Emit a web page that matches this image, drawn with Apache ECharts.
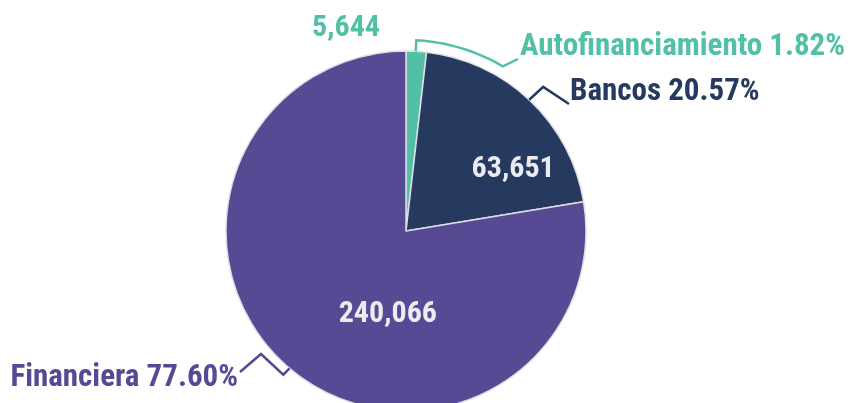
<!DOCTYPE html>
<html><head><meta charset="utf-8">
<script src="https://cdn.jsdelivr.net/npm/echarts@6/dist/echarts.min.js"></script>
<style>html,body{margin:0;padding:0;background:#fff}#c{width:853px;height:403px}</style>
</head><body><div id="c"></div>
<script>
var categories = ['Autofinanciamiento', 'Bancos', 'Financiera'];
var values = [5644, 63651, 240066];
var colors = ['#52c0a6', '#253a5e', '#554a93'];

var FONT = '"Roboto Condensed", "Roboto", sans-serif';
var total = values.reduce(function (a, b) { return a + b; }, 0);
var data = categories.map(function (c, i) {
  return { name: c, value: values[i], itemStyle: { color: colors[i] } };
});

// ---- layout only (positions of labels / label lines) ----
var CX = 406, CY = 231, R = 180;
function polar(r, deg) {
  var a = deg * Math.PI / 180;
  return [CX + r * Math.sin(a), CY - r * Math.cos(a)];
}
function arc(r, a0, a1, n) {
  var pts = [];
  for (var k = 0; k <= n; k++) pts.push(polar(r, a0 + (a1 - a0) * k / n));
  return pts;
}
var innerShift = [null, [43, 6], [42, 13]];
var outerLabel = [
  { x: 520, y: 47, align: 'left' },
  { x: 570, y: 92, align: 'left' },
  { x: 238, y: 378, align: 'right' }
];
var linePts = [
  [polar(R, 3.1)].concat(arc(191, 3.1, 30.5, 24)).concat([[518, 59]]),
  [polar(R, 43.2), polar(199, 43.6), [569, 104]],
  [polar(R, 220.3), polar(189, 220.5), [261, 354], [240, 372]]
];

var chart = echarts.init(document.getElementById('c'));
chart.setOption({
  animation: false,
  series: [
    {
      type: 'pie',
      center: [CX, CY],
      radius: R,
      startAngle: 90,
      clockwise: true,
      itemStyle: { borderColor: '#dedee6', borderWidth: 1.5 },
      label: {
        position: 'inside',
        formatter: function (p) { return echarts.format.addCommas(p.value); },
        color: '#ececf0',
        fontFamily: FONT,
        fontWeight: 'bold',
        fontSize: 30
      },
      labelLine: { show: false },
      labelLayout: function (p) {
        var i = p.dataIndex;
        if (i === 0) {
          return { x: 346, y: 28, align: 'center', verticalAlign: 'middle' };
        }
        return { dx: innerShift[i][0], dy: innerShift[i][1] };
      },
      data: data.map(function (d, i) {
        var o = Object.assign({}, d);
        if (i === 0) o.label = { color: colors[0] };
        return o;
      })
    },
    {
      type: 'pie',
      center: [CX, CY],
      radius: R,
      startAngle: 90,
      clockwise: true,
      silent: true,
      z: 3,
      itemStyle: { color: 'transparent', borderWidth: 0 },
      label: {
        position: 'outside',
        formatter: function (p) {
          return p.name + ' ' + (p.value / total * 100).toFixed(2) + '%';
        },
        fontFamily: FONT,
        fontWeight: 'bold',
        fontSize: 31
      },
      labelLine: { show: true, length: 12, length2: 20, lineStyle: { width: 2.5 } },
      labelLayout: function (p) {
        var i = p.dataIndex;
        return {
          x: outerLabel[i].x, y: outerLabel[i].y,
          align: outerLabel[i].align, verticalAlign: 'middle',
          labelLinePoints: linePts[i]
        };
      },
      data: data.map(function (d, i) {
        return {
          name: d.name, value: d.value,
          itemStyle: { color: 'transparent' },
          label: { color: colors[i] },
          labelLine: { lineStyle: { color: colors[i] } }
        };
      })
    }
  ]
});
</script></body></html>
